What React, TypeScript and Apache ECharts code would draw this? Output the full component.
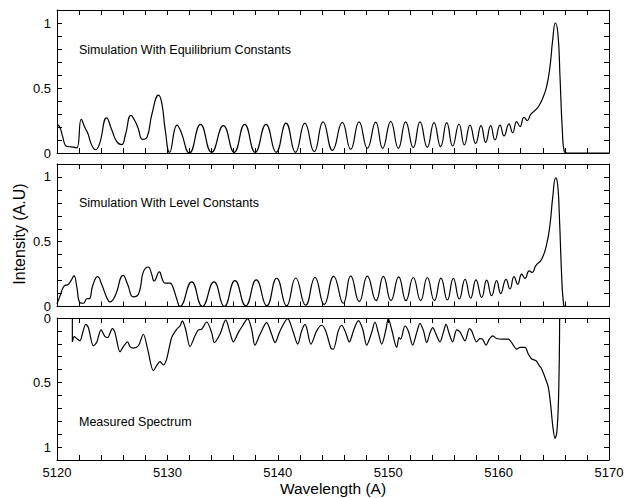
import React, { useEffect, useRef } from 'react';
import * as echarts from 'echarts';

const xTickLabels = [5120, 5130, 5140, 5150, 5160, 5170];
const yTickLabels = [0, 0.5, 1];
const panelTitles = [
  'Simulation With Equilibrium Constants',
  'Simulation With Level Constants',
  'Measured Spectrum',
];
const xAxisTitle = 'Wavelength (A)';
const yAxisTitle = 'Intensity (A.U)';

const equilibrium: [number, number][] = [
  [5120.0, 0.22], [5120.25, 0.2], [5120.5, 0.13], [5120.75, 0.06], [5121.0, 0.05],
  [5121.5, 0.045], [5121.8, 0.04], [5122.2, 0.26], [5122.5, 0.2], [5122.8, 0.15],
  [5123.1, 0.07], [5123.5, 0.025], [5123.85, 0.07], [5124.5, 0.27], [5124.95, 0.18],
  [5125.4, 0.09], [5125.85, 0.065], [5126.2, 0.14], [5126.7, 0.29], [5127.1, 0.24],
  [5127.35, 0.19], [5127.75, 0.105], [5128.15, 0.12], [5128.6, 0.3], [5129.2, 0.445],
  [5129.5, 0.38], [5129.8, 0.18], [5130.2, 0.005], [5130.87, 0.215], [5131.2, 0.17],
  [5132.0, 0.0], [5133.0, 0.22], [5134.0, 0.005], [5135.07, 0.21], [5136.05, 0.005],
  [5137.0, 0.22], [5137.95, 0.005], [5138.93, 0.22], [5139.85, 0.005], [5140.75, 0.23],
  [5141.6, 0.005], [5142.45, 0.23], [5143.3, 0.01], [5144.1, 0.24], [5144.95, 0.02],
  [5145.84, 0.235], [5146.6, 0.028], [5147.36, 0.24], [5148.11, 0.036], [5148.87, 0.238],
  [5149.5, 0.036], [5150.23, 0.244], [5150.92, 0.036], [5151.58, 0.24], [5152.27, 0.041],
  [5152.88, 0.24], [5153.54, 0.044], [5154.15, 0.233], [5154.75, 0.049], [5155.3, 0.233],
  [5155.84, 0.054], [5156.41, 0.223], [5156.9, 0.062], [5157.41, 0.215], [5157.92, 0.074],
  [5158.41, 0.21], [5158.83, 0.082], [5159.28, 0.21], [5159.67, 0.1], [5160.13, 0.215],
  [5160.49, 0.131], [5160.94, 0.224], [5161.27, 0.156], [5161.64, 0.241], [5161.94, 0.203],
  [5162.3, 0.274], [5162.6, 0.249], [5162.9, 0.297], [5163.2, 0.32], [5163.6, 0.356],
  [5164.05, 0.433], [5164.35, 0.51], [5164.65, 0.66], [5164.9, 0.87], [5165.14, 1.0],
  [5165.38, 0.91], [5165.56, 0.59], [5165.77, 0.18], [5165.95, 0.01], [5166.2, 0],
  [5170, 0],
];

const level: [number, number][] = [
  [5120.0, 0.02], [5120.27, 0.08], [5120.66, 0.16], [5121.02, 0.17], [5121.27, 0.2],
  [5121.54, 0.236], [5121.78, 0.16], [5122.08, 0.03], [5122.4, 0.025], [5122.7, 0.06],
  [5122.93, 0.061], [5123.23, 0.16], [5123.68, 0.23], [5124.05, 0.17], [5124.5, 0.07],
  [5124.8, 0.035], [5125.25, 0.08], [5126.0, 0.24], [5126.4, 0.17], [5126.9, 0.075],
  [5127.22, 0.08], [5127.52, 0.133], [5127.82, 0.267], [5128.27, 0.305], [5128.57, 0.25],
  [5128.8, 0.197], [5129.27, 0.267], [5129.54, 0.21], [5129.78, 0.18], [5130.24, 0.18],
  [5130.45, 0.16], [5130.84, 0.06], [5131.14, 0.0], [5132.2, 0.19], [5133.16, 0.0],
  [5134.22, 0.19], [5135.15, 0.0], [5136.12, 0.2], [5137.09, 0.005], [5138.05, 0.205],
  [5139.0, 0.005], [5139.9, 0.218], [5140.8, 0.005], [5141.62, 0.22], [5142.52, 0.01],
  [5143.37, 0.225], [5144.2, 0.015], [5145.06, 0.232], [5145.93, 0.025], [5146.6, 0.237],
  [5147.38, 0.037], [5148.11, 0.235], [5148.9, 0.045], [5149.56, 0.232], [5150.25, 0.045],
  [5150.95, 0.229], [5151.61, 0.045], [5152.27, 0.224], [5152.94, 0.045], [5153.54, 0.224],
  [5154.18, 0.045], [5154.78, 0.219], [5155.36, 0.05], [5155.9, 0.217], [5156.44, 0.058],
  [5156.96, 0.21], [5157.47, 0.064], [5157.95, 0.206], [5158.47, 0.07], [5158.92, 0.203],
  [5159.37, 0.083], [5159.82, 0.2], [5160.19, 0.1], [5160.67, 0.21], [5161.03, 0.135],
  [5161.4, 0.23], [5161.73, 0.173], [5162.09, 0.25], [5162.39, 0.217], [5162.78, 0.275],
  [5163.05, 0.263], [5163.36, 0.314], [5163.9, 0.365], [5164.35, 0.48], [5164.66, 0.635],
  [5164.9, 0.84], [5165.17, 0.993], [5165.35, 0.94], [5165.5, 0.71], [5165.72, 0.22],
  [5165.86, 0.04], [5166.0, 0], [5170, 0],
];

const measured: [number, number][] = [
  [5121.39, 0], [5121.39, 0.185], [5121.57, 0.144], [5121.78, 0.159], [5122.08, 0.177],
  [5122.29, 0.126], [5122.6, 0.049], [5122.84, 0.074], [5123.29, 0.215], [5123.59, 0.19],
  [5123.99, 0.092], [5124.35, 0.144], [5124.59, 0.151], [5125.01, 0.082], [5125.25, 0.113],
  [5125.71, 0.262], [5126.01, 0.221], [5126.4, 0.185], [5126.61, 0.221], [5126.91, 0.233],
  [5127.37, 0.215], [5127.82, 0.126], [5128.21, 0.241], [5128.73, 0.408], [5129.03, 0.369],
  [5129.33, 0.338], [5129.63, 0.364], [5129.93, 0.318], [5130.39, 0.151], [5130.84, 0.087],
  [5131.14, 0.062], [5131.35, 0.023], [5131.65, 0.087], [5132.05, 0.221], [5132.5, 0.138],
  [5132.8, 0.092], [5133.1, 0.087], [5133.56, 0.031], [5134.01, 0.113], [5134.25, 0.19],
  [5134.76, 0.126], [5135.28, 0.015], [5135.67, 0.113], [5135.97, 0.185], [5136.42, 0.113],
  [5136.79, 0.062], [5137.27, 0.005], [5137.63, 0.087], [5137.93, 0.21], [5138.39, 0.126],
  [5138.99, 0.036], [5139.44, 0.126], [5139.75, 0.19], [5140.2, 0.1], [5140.89, 0.005],
  [5141.41, 0.113], [5141.8, 0.203], [5142.16, 0.1], [5142.46, 0.049], [5142.61, 0.074],
  [5143.0, 0.203], [5143.52, 0.1], [5143.97, 0.056], [5144.34, 0.1], [5144.82, 0.236],
  [5145.03, 0.241], [5145.48, 0.1], [5145.78, 0.056], [5146.09, 0.1], [5146.48, 0.185],
  [5146.9, 0.087], [5147.3, 0.021], [5147.69, 0.087], [5148.05, 0.21], [5148.5, 0.113],
  [5148.8, 0.031], [5149.1, 0.113], [5149.41, 0.203], [5149.8, 0.087], [5150.01, 0.005],
  [5150.31, 0.087], [5150.77, 0.228], [5150.98, 0.151], [5151.13, 0.164], [5151.52, 0.062],
  [5151.82, 0.1], [5152.22, 0.21], [5152.58, 0.113], [5152.88, 0.041], [5153.2, 0.1],
  [5153.49, 0.19], [5153.79, 0.113], [5154.03, 0.074], [5154.33, 0.126], [5154.69, 0.185],
  [5154.99, 0.113], [5155.24, 0.049], [5155.54, 0.126], [5155.84, 0.185], [5156.2, 0.092],
  [5156.5, 0.108], [5156.96, 0.177], [5157.35, 0.082], [5157.56, 0.1], [5158.01, 0.185],
  [5158.3, 0.159], [5158.54, 0.164], [5158.86, 0.21], [5159.16, 0.164], [5159.46, 0.138],
  [5159.82, 0.159], [5160.42, 0.164], [5160.88, 0.164], [5161.18, 0.19], [5161.64, 0.241],
  [5161.94, 0.228], [5162.39, 0.228], [5162.69, 0.279], [5163.0, 0.318], [5163.39, 0.331],
  [5163.69, 0.369], [5163.9, 0.395], [5164.2, 0.459], [5164.5, 0.536], [5164.72, 0.677],
  [5164.9, 0.831], [5165.11, 0.933], [5165.26, 0.895], [5165.41, 0.677], [5165.5, 0.3],
  [5165.53, 0],
];

const FONT = '"Liberation Sans", Arial, Helvetica, sans-serif';

export default function App() {
  const ref = useRef<HTMLDivElement>(null);
  useEffect(() => {
    const chart = echarts.init(ref.current!, null, { renderer: 'svg' });
    const panels = [
      { top: 10, height: 143, inverse: false, data: equilibrium, title: panelTitles[0], titleY: 50 },
      { top: 164, height: 142.5, inverse: false, data: level, title: panelTitles[1], titleY: 203.5 },
      { top: 318, height: 142, inverse: true, data: measured, title: panelTitles[2], titleY: 422 },
    ];
    const tickStyle = { show: true, inside: true, length: 5, lineStyle: { color: '#000', width: 1 } };
    const lineStyle = { show: true, onZero: false, lineStyle: { color: '#000', width: 1 } };
    const xFmt = (v: number) => {
      const r = Math.round(v);
      return Math.abs(v - r) < 1e-6 && xTickLabels.includes(r) ? String(r) : '';
    };
    const yFmt = (v: number) => {
      const t = yTickLabels.find((t) => Math.abs(t - v) < 1e-6);
      return t === undefined ? '' : String(t);
    };
    const grid: any[] = [];
    const xAxis: any[] = [];
    const yAxis: any[] = [];
    const series: any[] = [];
    const graphic: any[] = [];
    panels.forEach((p, i) => {
      grid.push({ left: 57, width: 552, top: p.top, height: p.height, containLabel: false });
      ['bottom', 'top'].forEach((pos) => {
        xAxis.push({
          type: 'value', gridIndex: i, position: pos, min: 5120, max: 5170, interval: 2,
          axisLine: lineStyle, axisTick: tickStyle, splitLine: { show: false },
          axisLabel: {
            show: pos === 'bottom' && i === 2, formatter: xFmt, color: '#000',
            fontSize: 13, fontFamily: FONT, margin: 6,
          },
        });
      });
      ['left', 'right'].forEach((pos) => {
        yAxis.push({
          type: 'value', gridIndex: i, position: pos, min: 0, max: 1.1, interval: 0.1,
          inverse: p.inverse,
          axisLine: lineStyle, axisTick: tickStyle, splitLine: { show: false },
          axisLabel: {
            show: pos === 'left', formatter: yFmt, color: '#000', fontSize: 13,
            fontFamily: FONT, margin: 6, showMaxLabel: false,
          },
        });
      });
      series.push({
        type: 'line', xAxisIndex: i * 2, yAxisIndex: i * 2, data: p.data,
        showSymbol: false, symbol: 'none', smooth: i === 2 ? 0.3 : 0.5,
        lineStyle: { color: '#000', width: 1.2 }, clip: true,
      });
      graphic.push({
        type: 'text', left: 79, top: p.titleY - 7,
        style: { text: p.title, fill: '#000', fontSize: 12.5, fontFamily: FONT },
      });
    });
    graphic.push({
      type: 'text', x: 333, y: 488,
      style: { text: xAxisTitle, fill: '#000', fontSize: 15.5, fontFamily: FONT, align: 'center', verticalAlign: 'middle' },
    });
    graphic.push({
      type: 'text', x: 19.5, y: 234, rotation: Math.PI / 2,
      style: { text: yAxisTitle, fill: '#000', fontSize: 16, fontFamily: FONT, align: 'center', verticalAlign: 'middle' },
    });
    chart.setOption({
      animation: false,
      backgroundColor: '#fff',
      grid, xAxis, yAxis, series, graphic,
    });
    return () => chart.dispose();
  }, []);
  return <div ref={ref} style={{ position: 'fixed', left: 0, top: 0, width: 629, height: 498 }} />;
}
